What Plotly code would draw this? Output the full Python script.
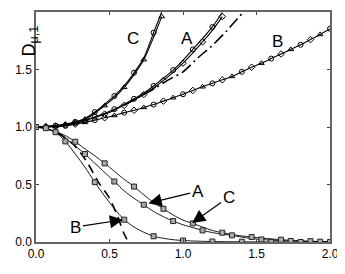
import plotly.graph_objects as go

# ---------------- data ----------------
eps_grid = [0.0, 0.067, 0.133, 0.2, 0.267, 0.333, 0.4, 0.467, 0.533, 0.6, 0.667,
            0.733, 0.8, 0.867, 0.933, 1.0, 1.067, 1.133, 1.2, 1.267, 1.333, 1.4,
            1.467, 1.533, 1.6, 1.667, 1.733, 1.8, 1.867, 1.933, 2.0]

# upper curves (growth)
eps_C_up = [0.0, 0.067, 0.133, 0.2, 0.267, 0.333, 0.4, 0.467, 0.533, 0.6, 0.667, 0.733, 0.8, 0.855]
C_up_1 = [1.0, 1.005, 1.012, 1.025, 1.045, 1.075, 1.13, 1.198, 1.27, 1.36, 1.472, 1.6, 1.82, 2.0]
C_up_2 = [1.0, 1.004, 1.01, 1.022, 1.04, 1.068, 1.12, 1.186, 1.255, 1.345, 1.455, 1.585, 1.78, 1.96]

eps_A_up = [0.0, 0.067, 0.133, 0.2, 0.267, 0.333, 0.4, 0.467, 0.533, 0.6, 0.667, 0.733,
            0.8, 0.867, 0.933, 1.0, 1.067, 1.133, 1.2, 1.267]
A_up_1 = [1.0, 1.003, 1.01, 1.02, 1.035, 1.06, 1.09, 1.12, 1.155, 1.198, 1.245, 1.295,
          1.357, 1.425, 1.495, 1.58, 1.675, 1.77, 1.87, 1.995]
A_up_2 = [1.0, 1.003, 1.009, 1.018, 1.032, 1.055, 1.083, 1.112, 1.146, 1.188, 1.234, 1.282,
          1.34, 1.405, 1.475, 1.555, 1.645, 1.74, 1.84, 1.96]

eps_A_asym = [0.6, 0.7, 0.8, 0.9, 1.0, 1.1, 1.2, 1.3, 1.41]
A_asym = [1.19, 1.26, 1.33, 1.41, 1.48, 1.6, 1.71, 1.84, 2.0]

B_up = [1.0, 1.0, 1.003, 1.01, 1.025, 1.04, 1.06, 1.08, 1.1, 1.125, 1.145, 1.17, 1.195,
        1.225, 1.255, 1.285, 1.318, 1.35, 1.38, 1.41, 1.44, 1.48, 1.52, 1.555, 1.595,
        1.635, 1.675, 1.715, 1.76, 1.805, 1.855]

# lower curves (decay)
C_low = [1.0, 0.99, 0.96, 0.925, 0.872, 0.81, 0.75, 0.684, 0.615, 0.545, 0.482, 0.41,
         0.345, 0.289, 0.235, 0.19, 0.162, 0.13, 0.1, 0.081, 0.065, 0.053, 0.043, 0.035,
         0.027, 0.02, 0.015, 0.01, 0.007, 0.004, 0.003]
A_low = [1.0, 0.985, 0.955, 0.9, 0.835, 0.765, 0.685, 0.605, 0.526, 0.445, 0.38, 0.324,
         0.265, 0.22, 0.182, 0.15, 0.125, 0.101, 0.082, 0.068, 0.058, 0.042, 0.03, 0.022,
         0.016, 0.012, 0.009, 0.006, 0.004, 0.003, 0.002]
B_low = [1.0, 0.985, 0.952, 0.875, 0.765, 0.65, 0.52, 0.4, 0.29, 0.194, 0.13, 0.085,
         0.05, 0.032, 0.02, 0.013, 0.009, 0.006, 0.004, 0.003, 0.002, 0.002, 0.001,
         0.001, 0.001, 0.0, 0.0, 0.0, 0.0, 0.0, 0.0]

eps_B_asym = [0.15, 0.25, 0.3, 0.35, 0.42, 0.5, 0.55, 0.6, 0.62]
B_asym = [0.95, 0.855, 0.78, 0.69, 0.53, 0.38, 0.24, 0.07, 0.02]

x_ticks = [0.0, 0.5, 1.0, 1.5, 2.0]
y_ticks = [0.0, 0.5, 1.0, 1.5]

# ---------------- figure ----------------
fig = go.Figure()
LW = 1.1


def line(x, y, dash="solid", width=LW):
    fig.add_trace(go.Scatter(x=x, y=y, mode="lines",
                             line=dict(color="black", width=width, dash=dash,
                                       shape="spline", smoothing=0.8),
                             hoverinfo="skip"))


def marks(x, y, symbol, size=5, fill=None):
    if fill:
        m = dict(symbol=symbol, size=size, color=fill, line=dict(color="#222", width=1))
    else:
        m = dict(symbol=symbol, size=size, color="black", line=dict(color="black", width=1))
    fig.add_trace(go.Scatter(x=x, y=y, mode="markers", marker=m, hoverinfo="skip"))


# upper
line(eps_C_up, C_up_1)
line(eps_C_up, C_up_2)
marks(eps_C_up[::2], C_up_1[::2], "circle-open")
marks(eps_C_up[1::2], C_up_2[1::2], "triangle-up-open")

line(eps_A_up, A_up_1)
line(eps_A_up, A_up_2)
marks(eps_A_up[::2], A_up_1[::2], "circle-open")
marks(eps_A_up[1::2], A_up_2[1::2], "diamond-open")
line(eps_A_asym, A_asym, dash="12px,4px,2px,4px", width=1.6)

line(eps_grid, B_up)
marks(eps_grid[::3], B_up[::3], "circle-open")
marks(eps_grid[1::3], B_up[1::3], "diamond-open")
marks(eps_grid[2::3], B_up[2::3], "triangle-up-open")

# lower
line(eps_grid, C_low, width=0.9)
line(eps_grid, A_low, width=0.9)
line(eps_grid, B_low, width=0.9)
line(eps_B_asym, B_asym, dash="9px,6px", width=1.6)
marks(eps_grid[1::3], C_low[1::3], "square", size=5, fill="#aaaaaa")
marks(eps_grid[2::3], A_low[2::3], "square", size=5, fill="#aaaaaa")
marks(eps_grid[0::3], B_low[0::3], "square", size=5, fill="#aaaaaa")

FONT = "Liberation Sans, Arial, sans-serif"
lab = dict(size=17, color="black", family=FONT)


def arrow_label(text, tip_x, tip_y, lab_x, lab_y):
    return dict(x=tip_x, y=tip_y, ax=lab_x, ay=lab_y, axref="x", ayref="y", text=text,
                showarrow=True, arrowhead=2, arrowsize=2.2, arrowwidth=1.2, arrowcolor="black",
                font=lab, standoff=0)


anns = [
    dict(x=0.66, y=1.77, text="C", showarrow=False, font=lab),
    dict(x=1.03, y=1.77, text="A", showarrow=False, font=lab),
    dict(x=1.64, y=1.74, text="B", showarrow=False, font=lab),
    arrow_label("A", 0.765, 0.338, 1.10, 0.44),
    arrow_label("C", 1.062, 0.165, 1.31, 0.39),
    arrow_label("B", 0.592, 0.194, 0.272, 0.13),
    dict(x=1.673, y=-0.155, text="ε", showarrow=False,
         font=dict(size=16, color="black", family=FONT), yanchor="middle"),
    dict(xref="paper", yref="paper", x=-0.068, y=0.95, yanchor="top", text="D<sub>μ,1</sub>",
         textangle=-90, showarrow=False, font=dict(size=18, color="black", family=FONT)),
]

axis_common = dict(showgrid=False, zeroline=False, showline=True, linecolor="#666", linewidth=1.5,
                   mirror="ticks", ticks="inside", ticklen=3, tickcolor="#444",
                   tickfont=dict(size=12, color="black", family=FONT))

# the page body adds an 8px offset; compensate in size and margins
fig.update_layout(
    width=337, height=266,
    margin=dict(l=28, r=15, t=2, b=32),
    paper_bgcolor="white", plot_bgcolor="white",
    showlegend=False,
    annotations=anns,
    xaxis=dict(range=[0, 2], tickvals=x_ticks, ticktext=[f"{v:.1f}" for v in x_ticks], **axis_common),
    yaxis=dict(range=[0, 2], tickvals=y_ticks, ticktext=[f"{v:.1f}" for v in y_ticks], **axis_common),
)

fig.write_html("out.html")
